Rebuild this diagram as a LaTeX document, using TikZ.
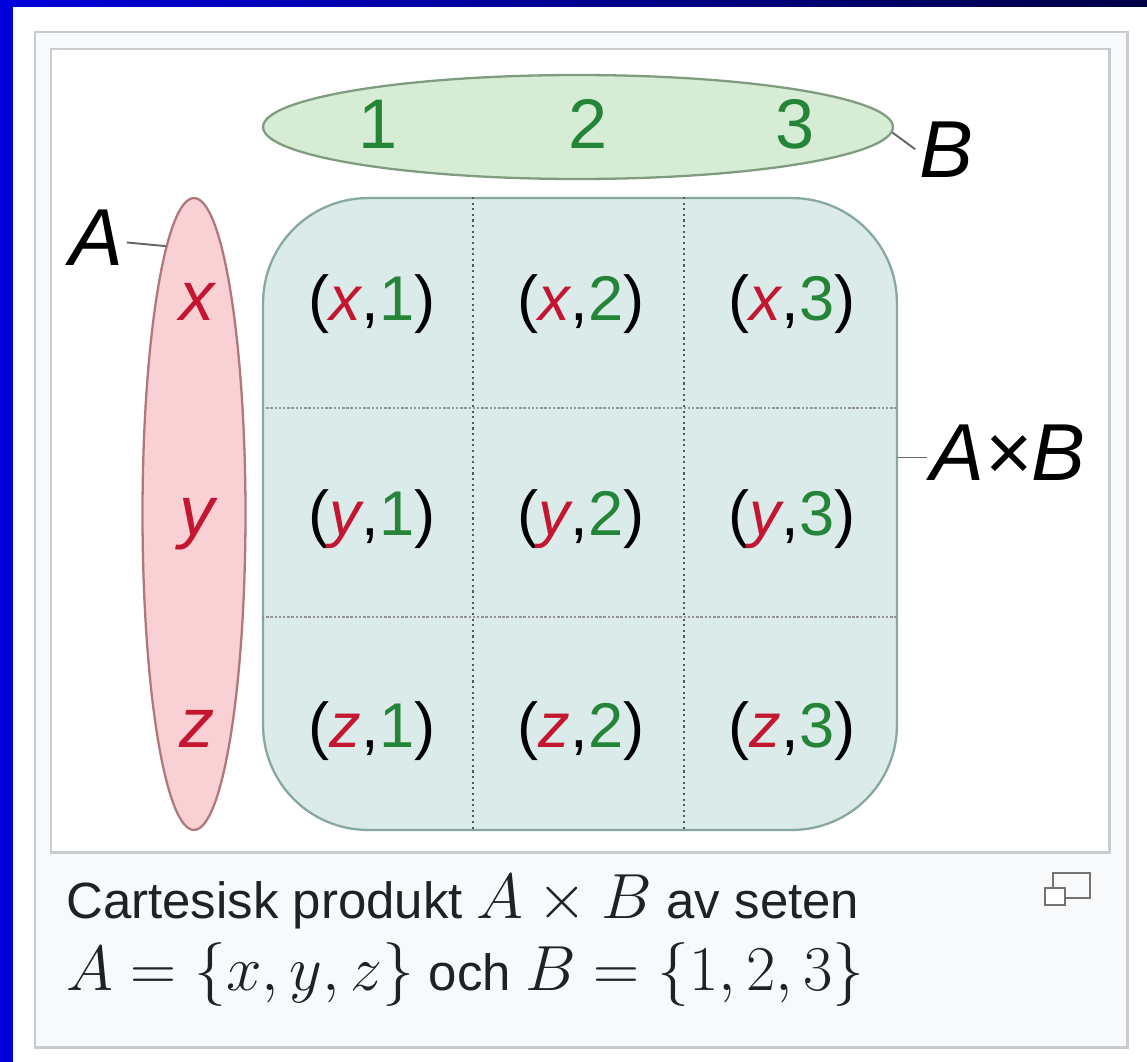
\documentclass[tikz,border=0pt]{standalone}
\usepackage[no-math]{fontspec}
\setmainfont{Liberation Sans}
\usetikzlibrary{shapes.geometric, positioning}

\definecolor{setred}{RGB}{196,22,48}
\definecolor{setgreen}{RGB}{36,132,56}
\definecolor{redfill}{RGB}{249,208,211}
\definecolor{redline}{RGB}{176,120,122}
\definecolor{greenfill}{RGB}{214,236,212}
\definecolor{greenline}{RGB}{128,156,128}
\definecolor{prodfill}{RGB}{219,235,233}
\definecolor{prodline}{RGB}{134,168,160}
\definecolor{frameline}{RGB}{200,204,209}
\definecolor{panel}{RGB}{248,249,250}
\definecolor{captxt}{RGB}{32,33,34}
\definecolor{slideblue}{RGB}{0,0,220}
\definecolor{slidenavy}{RGB}{0,0,70}

\newcommand{\capmath}[1]{\scalebox{1.46}{$#1$}}

\begin{document}
\begin{tikzpicture}[
    x=0.02cm, y=-0.02cm,
    greenset/.style={draw=greenline, fill=greenfill, ellipse, line width=1.3pt,
                     minimum width=12.6cm, minimum height=2.08cm, inner sep=0pt},
    redset/.style={draw=redline, fill=redfill, ellipse, line width=1.3pt,
                   minimum width=2.06cm, minimum height=12.64cm, inner sep=0pt},
    prodbox/.style={draw=prodline, fill=prodfill, rectangle, rounded corners=2.1cm,
                    line width=1.3pt, minimum width=12.68cm, minimum height=12.64cm},
    elem/.style={inner sep=0pt, font=\fontsize{40}{44}\selectfont, anchor=base},
    pair/.style={inner sep=0pt, font=\fontsize{36}{40}\selectfont, anchor=base},
    setname/.style={inner sep=2pt, font=\fontsize{46}{50}\selectfont\itshape, anchor=base},
    caption/.style={inner sep=0pt, text=captxt, font=\fontsize{29}{34}\selectfont, anchor=base west},
    link/.style={draw=black!60, line width=1.1pt},
    vgrid/.style={draw=black!65, dotted, line width=1.2pt},
    hgrid/.style={draw=black!42, densely dotted, line width=1.4pt}
  ]
    \useasboundingbox (0,0) rectangle (1147,1062);
    \fill[white] (0,0) rectangle (1147,1062);
    \fill[slideblue] (0,0) rectangle (13,1062);
    \shade[left color=slideblue, right color=slidenavy] (0,0) rectangle (1147,6);

    % figure frame
    \draw[frameline, fill=panel, line width=1.7pt] (35,32) rectangle (1127,1047);
    \draw[frameline, fill=white, line width=1.7pt] (51,49) rectangle (1109,852);

    % the two sets and their product
    \node[greenset] (setB) at (578,127) {};
    \node[redset] (setA) at (194,514) {};
    \node[prodbox] (prod) at (580,514) {};

    \foreach \gx in {473,684}
      \draw[vgrid] (prod.north -| \gx,0) -- (prod.south -| \gx,0);
    \foreach \gy in {408,617}
      \draw[hgrid] (prod.west |- 0,\gy) -- (prod.east |- 0,\gy);

    % elements
    \foreach \n/\xx in {1/378,2/588,3/795}
      \node[elem, text=setgreen] (b\n) at (\xx,148) {\n};
    \foreach \a/\yy in {x/320,y/535,z/747}
      \node[elem, text=setred, font=\fontsize{40}{44}\selectfont\itshape] (a\a) at (197,\yy) {\a};

    % pairs
    \foreach \a/\yy in {x/320,y/535,z/747}
      \foreach \n/\xx in {1/372,2/581,3/792}
        \node[pair] (p\a\n) at (\xx,\yy)
          {(\textcolor{setred}{\itshape\a},\textcolor{setgreen}{\n})};

    % set names
    \node[setname] (labA) at (96,265) {A};
    \node[setname] (labB) at (946,177) {B};
    \node[setname] (labAB) at (1008,480) {A×B};
    \draw[link] ([yshift=-3pt]labA.east) -- (setA.96);
    \draw[link] (setB.-1.5) -- (labB.west);
    \draw[link] ([yshift=-3pt]labAB.west) -- ([yshift=-3pt]labAB.west -| prod.east);

    % caption
    \node[caption] (cap1) at (66,918)
      {Cartesisk produkt \capmath{A\times B} av seten};
    \node[caption] (cap2) at (66,990)
      {\capmath{A=\{x,y,z\}} och \capmath{B=\{1,2,3\}}};

    % enlarge icon
    \draw[black!55, line width=1.4pt] (1053,873) rectangle (1090,898);
    \draw[black!55, fill=white, line width=1.4pt] (1045,888) rectangle (1065,905);
\end{tikzpicture}
\end{document}
